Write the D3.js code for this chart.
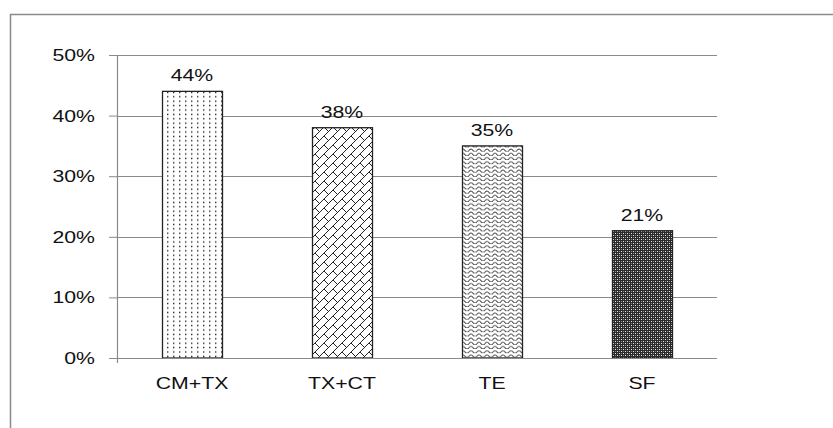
<!DOCTYPE html>
<html>
<head>
<meta charset="utf-8">
<script src="https://cdn.jsdelivr.net/npm/d3@7"></script>
<style>
  html, body { margin: 0; padding: 0; background: #fff; }
  svg { display: block; }
  text { font-family: "Liberation Sans", Arial, sans-serif; fill: #111; }
</style>
</head>
<body>
<svg id="chart" width="833" height="428"></svg>
<script>
// Share of respondents per treatment group
const categories = ["CM+TX", "TX+CT", "TE", "SF"];
const values = [44, 38, 35, 21];
const patternIds = ["dots", "brick", "wave", "dense"];
const yTicks = [0, 10, 20, 30, 40, 50];

const FONT = 17, STRETCH = 1.25;

const svg = d3.select("#chart");
const W = 833, H = 428;
const margin = { left: 117, right: 116, top: 55, bottom: 70 };
const innerW = W - margin.left - margin.right;
const innerH = H - margin.top - margin.bottom;

// outer frame (runs past the right and bottom edges)
svg.append("rect")
  .attr("x", 10.5).attr("y", 14.5)
  .attr("width", 900).attr("height", 500)
  .attr("fill", "none").attr("stroke", "#8a8a8a").attr("stroke-width", 1.5);

// fill patterns
const defs = svg.append("defs");

const pDots = defs.append("pattern").attr("id", "dots")
  .attr("patternUnits", "userSpaceOnUse").attr("width", 6).attr("height", 4.4);
pDots.append("rect").attr("width", 6).attr("height", 4.4).attr("fill", "#fff");
pDots.append("rect").attr("x", 2).attr("y", 1.5).attr("width", 1.4).attr("height", 1.4).attr("fill", "#222");

const pBrick = defs.append("pattern").attr("id", "brick")
  .attr("patternUnits", "userSpaceOnUse").attr("width", 9).attr("height", 9);
pBrick.append("rect").attr("width", 9).attr("height", 9).attr("fill", "#fff");
pBrick.append("path")
  .attr("d", "M-1,10 L10,-1 M0,0 L4.5,4.5")
  .attr("stroke", "#222").attr("stroke-width", 1).attr("fill", "none");

const pWave = defs.append("pattern").attr("id", "wave")
  .attr("patternUnits", "userSpaceOnUse").attr("width", 8).attr("height", 4.2);
pWave.append("rect").attr("width", 8).attr("height", 4.2).attr("fill", "#fff");
pWave.append("path")
  .attr("d", "M0,3 Q2,0.5 4,3 T8,3")
  .attr("stroke", "#333").attr("stroke-width", 0.9).attr("fill", "none");

const pDense = defs.append("pattern").attr("id", "dense")
  .attr("patternUnits", "userSpaceOnUse").attr("width", 4).attr("height", 4);
pDense.append("rect").attr("width", 4).attr("height", 4).attr("fill", "#2a2a2a");
pDense.append("rect").attr("x", 0).attr("y", 0).attr("width", 1).attr("height", 1).attr("fill", "#eee");
pDense.append("rect").attr("x", 2).attr("y", 2).attr("width", 1).attr("height", 1).attr("fill", "#eee");
pDense.append("rect").attr("x", 2).attr("y", 0).attr("width", 1).attr("height", 1).attr("fill", "#888");
pDense.append("rect").attr("x", 0).attr("y", 2).attr("width", 1).attr("height", 1).attr("fill", "#888");

// scales
const x = d3.scaleBand().domain(categories).range([0, innerW]).paddingInner(0.6).paddingOuter(0.3);
const y = d3.scaleLinear().domain([0, 50]).range([innerH, 0]);

const g = svg.append("g").attr("transform", `translate(${margin.left},${margin.top})`);

// widened label text, anchored at (px, py)
function label(parent, px, py, str, anchor) {
  parent.append("g")
    .attr("transform", `translate(${px},${py}) scale(${STRETCH},1)`)
    .append("text")
    .attr("text-anchor", anchor)
    .attr("font-size", FONT)
    .text(str);
}

// gridlines
g.append("g").selectAll("line").data(yTicks.filter(d => d > 0)).join("line")
  .attr("x1", 0).attr("x2", innerW)
  .attr("y1", d => Math.round(y(d)) + 0.5).attr("y2", d => Math.round(y(d)) + 0.5)
  .attr("stroke", "#8a8a8a").attr("stroke-width", 1);

// y axis ticks and labels
const yAxis = d3.axisLeft(y).tickValues(yTicks).tickFormat("").tickSize(8);
const ya = g.append("g").call(yAxis);
ya.select(".domain").remove();
ya.selectAll(".tick line").attr("stroke", "#8a8a8a");
const yLab = g.append("g");
yTicks.forEach(t => label(yLab, -22, y(t) + 6, t + "%", "end"));
g.append("line").attr("x1", 0.5).attr("x2", 0.5).attr("y1", 0).attr("y2", innerH + 5)
  .attr("stroke", "#8a8a8a").attr("stroke-width", 1.2);

// x axis labels
const xLab = g.append("g");
categories.forEach(c => label(xLab, x(c) + x.bandwidth() / 2, innerH + 31, c, "middle"));

// bars
g.append("g").selectAll("rect").data(categories).join("rect")
  .attr("x", d => x(d) + 0.5)
  .attr("y", (d, i) => y(values[i]))
  .attr("width", x.bandwidth())
  .attr("height", (d, i) => innerH - y(values[i]))
  .attr("fill", (d, i) => `url(#${patternIds[i]})`)
  .attr("stroke", "#222").attr("stroke-width", 1.3);

// baseline over bars
g.append("line").attr("x1", -8).attr("x2", innerW).attr("y1", innerH + 0.5).attr("y2", innerH + 0.5)
  .attr("stroke", "#8a8a8a").attr("stroke-width", 1.2);

// value labels
const vLab = g.append("g");
categories.forEach((c, i) => label(vLab, x(c) + x.bandwidth() / 2, y(values[i]) - 10, values[i] + "%", "middle"));
</script>
</body>
</html>
